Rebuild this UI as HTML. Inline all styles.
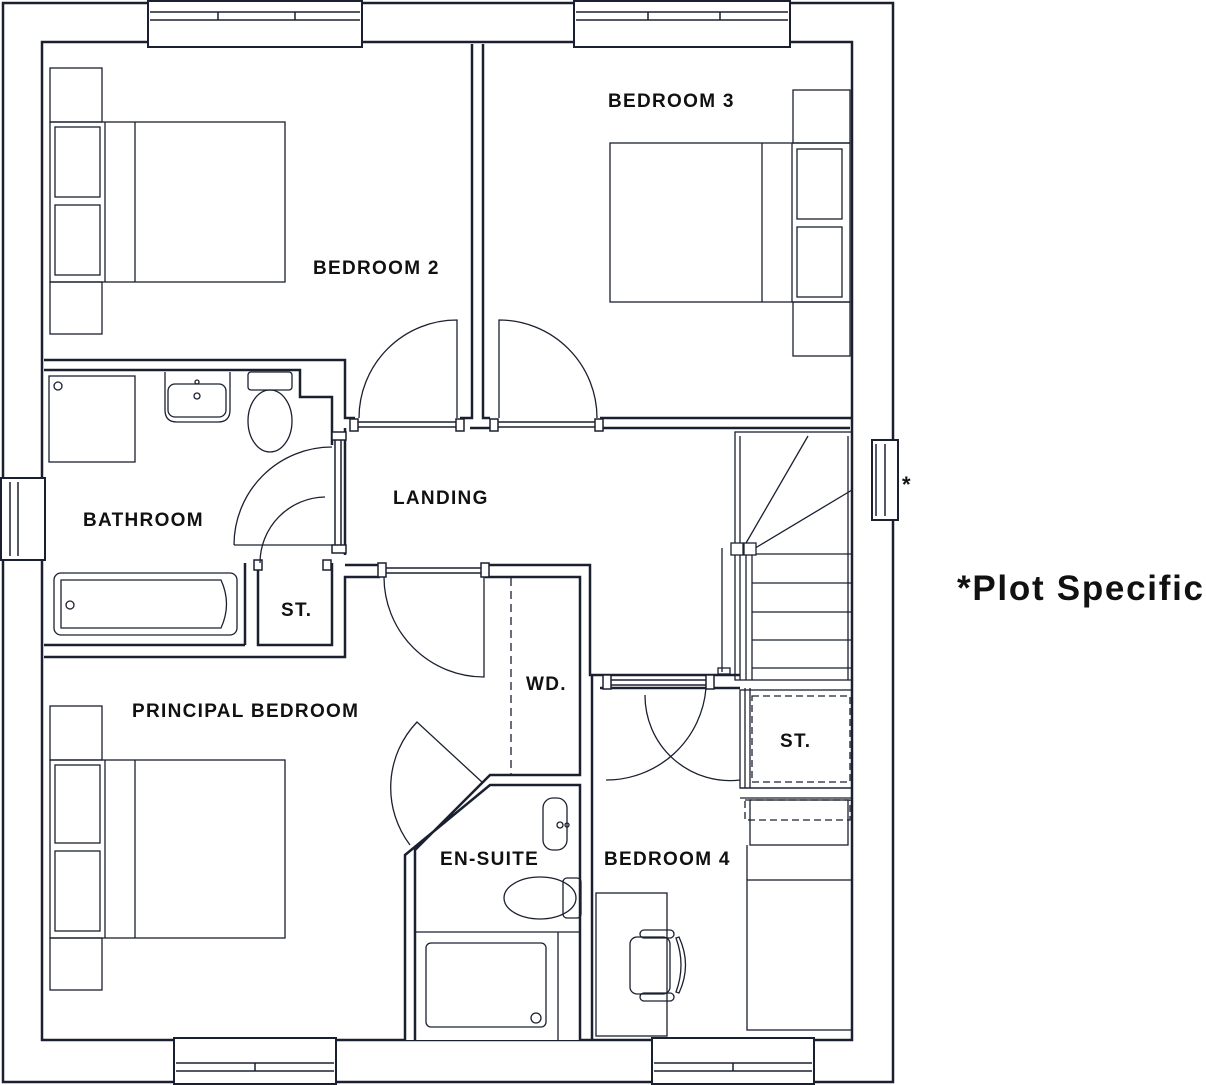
<!DOCTYPE html>
<html><head><meta charset="utf-8"><style>
html,body{margin:0;padding:0;background:#fff}
svg{display:block}
text{font-family:"Liberation Sans",sans-serif;fill:#111;font-weight:bold;letter-spacing:1.3px}
</style></head><body>
<svg width="1206" height="1085" viewBox="0 0 1206 1085" xmlns="http://www.w3.org/2000/svg">
<g fill="none" stroke="#1b2030" stroke-width="2.5">
<path d="M3,3 H893 V1082 H3 Z" fill="#fff"/>
<path d="M42,42 H852 V1040 H42 Z" fill="#fff"/>
</g>
<g fill="#fff" stroke="#1b2030" stroke-width="2">
<rect x="148" y="1" width="214" height="46"/>
<rect x="574" y="1" width="216" height="46"/>
<rect x="174" y="1038" width="162" height="46"/>
<rect x="652" y="1038" width="162" height="46"/>
<rect x="1" y="478" width="44" height="82"/>
<rect x="872" y="440" width="26" height="80"/>
</g>
<g stroke="#1b2030" stroke-width="1.5" fill="none">
<path d="M150,12 H360 M150,20 H360 M218,12 V20 M295,12 V20"/>
<path d="M576,12 H788 M576,20 H788 M648,12 V20 M720,12 V20"/>
<path d="M176,1063 H334 M176,1071 H334 M255,1063 V1071"/>
<path d="M654,1063 H812 M654,1071 H812 M733,1063 V1071"/>
<path d="M10,482 V556 M18,482 V556"/>
<path d="M876,444 V516 M885,444 V516"/>
</g>
<g fill="#fff" stroke="#1b2030" stroke-width="2.5">
<path d="M472,44 V418 H460 M483,44 V418 H490"/>
<path d="M600,418 H852 M600,428 H850"/>
<path d="M470,428 H490"/>
<path d="M44,360 H345 V418 H355 M44,370 H300 V397 H332 V445"/>
<path d="M345,428 V555"/>
<path d="M44,645 H245 M44,657 H345 V577 H380"/>
<path d="M245,563 V645 M258,563 V645 H332 V563"/>
<path d="M485,565 H590 V675 H600 M485,577 H580 V775 H490 L415,850 V1040 M405,1040 V855 L490,785 H580 V1040 M592,675 V1040"/>
<path d="M345,565 H380"/>
<path d="M600,675 H740 M600,688 H740"/>
</g>
<g stroke="#1b2030" stroke-width="1.5" fill="#fff">
<rect x="350" y="419" width="8" height="12"/><rect x="456" y="419" width="8" height="12"/>
<rect x="490" y="419" width="8" height="12"/><rect x="595" y="419" width="8" height="12"/>
<path d="M358,422 H456 M358,427 H456 M498,422 H595 M498,427 H595"/>
<rect x="332" y="432" width="14" height="8"/><rect x="332" y="545" width="14" height="8"/>
<path d="M335,440 V545 M341,440 V545"/>
<rect x="378" y="563" width="8" height="14"/><rect x="481" y="563" width="8" height="14"/>
<path d="M386,568 H481 M386,573 H481"/>
<rect x="603" y="675" width="8" height="14"/><rect x="706" y="675" width="8" height="14"/>
<path d="M611,680 H706 M611,685 H706"/>
<rect x="254" y="560" width="8" height="10"/><rect x="323" y="560" width="8" height="10"/>
</g>
<g stroke="#1b2030" stroke-width="1.3" fill="none">
<path d="M457,418 V320 A98,98 0 0 0 359,418"/>
<path d="M499,418 V320 A98,98 0 0 1 597,418"/>
<path d="M234,545 H332 M332,447 A98,98 0 0 0 234,545"/>
<path d="M325,497 A66,66 0 0 0 260,563"/>
<path d="M384,577 A100,100 0 0 0 484,677 V577"/>
<path d="M606,780 A100,100 0 0 0 706,688 M645,695 A85,85 0 0 0 740,780"/>
<path d="M483,783 L417,722 A95,95 0 0 0 410,845"/>
<path d="M511,578 V775" stroke-dasharray="8,5"/>
</g>
<g stroke="#1b2030" stroke-width="1.3" fill="none">
<rect x="735" y="432" width="117" height="248"/>
<path d="M740,436 V680 M848,436 V680 M746,552 V680 M752,552 V680"/>
<path d="M752,554 H852 M752,583 H852 M752,612 H852 M752,640 H852 M752,668 H852"/>
<path d="M742,550 L808,436 M752,550 L852,490"/>
<rect x="731" y="543" width="12" height="12" fill="#fff"/><rect x="744" y="543" width="12" height="12" fill="#fff"/>
<path d="M722,548 V672"/><rect x="718" y="668" width="12" height="6"/>
<rect x="740" y="690" width="112" height="98"/>
<path d="M745,688 V788 M750,688 V788"/>
<rect x="752" y="696" width="98" height="86" stroke-dasharray="7,4"/>
<path d="M740,788 H852 M740,798 H852"/>
<rect x="745" y="800" width="105" height="20" stroke-dasharray="7,4"/>
<rect x="750" y="800" width="98" height="45"/>
<rect x="747" y="880" width="105" height="150"/>
<path d="M747,845 V880"/>
</g>
<g stroke="#1b2030" stroke-width="1.3" fill="none">
<rect x="50" y="68" width="52" height="54"/><rect x="50" y="282" width="52" height="52"/>
<rect x="50" y="122" width="235" height="160"/><path d="M105,122 V282 M135,122 V282"/>
<rect x="55" y="127" width="45" height="70"/><rect x="55" y="205" width="45" height="70"/>
<rect x="610" y="143" width="240" height="159"/><path d="M762,143 V302 M792,143 V302"/>
<rect x="797" y="149" width="45" height="70"/><rect x="797" y="227" width="45" height="70"/>
<rect x="793" y="90" width="57" height="53"/><rect x="793" y="302" width="57" height="54"/>
<rect x="50" y="706" width="52" height="54"/><rect x="50" y="938" width="52" height="52"/>
<rect x="50" y="760" width="235" height="178"/><path d="M105,760 V938 M135,760 V938"/>
<rect x="55" y="765" width="45" height="78"/><rect x="55" y="851" width="45" height="80"/>
<rect x="49" y="376" width="86" height="86"/><circle cx="58" cy="386" r="4"/>
<path d="M165,372 V410 Q165,422 177,422 H218 Q230,422 230,410 V372"/><rect x="168" y="384" width="58" height="33" rx="7"/>
<circle cx="197" cy="382" r="2"/><circle cx="197" cy="396" r="3"/>
<rect x="248" y="372" width="44" height="18" rx="3"/><ellipse cx="270" cy="421" rx="22" ry="31"/>
<rect x="54" y="573" width="183" height="62" rx="7"/>
<path d="M61,580 H221 Q232,604 221,628 H61 Z"/><circle cx="70" cy="605" r="4"/>
<rect x="543" y="798" width="24" height="52" rx="10"/><circle cx="560" cy="825" r="3"/><circle cx="567" cy="825" r="2"/>
<ellipse cx="540" cy="898" rx="36" ry="21"/><rect x="563" y="878" width="18" height="40" rx="4"/>
<path d="M415,932 H580 M558,932 V1040"/>
<rect x="426" y="943" width="120" height="84" rx="5"/><circle cx="536" cy="1018" r="5"/>
<rect x="596" y="893" width="71" height="143"/>
<rect x="630" y="937" width="40" height="57" rx="7"/>
<rect x="640" y="930" width="34" height="8" rx="4"/><rect x="640" y="993" width="34" height="8" rx="4"/>
<path d="M679,937 Q692,965 679,993 L676,992 Q686,965 676,938 Z"/>
</g>
<text x="313" y="274" font-size="19">BEDROOM 2</text>
<text x="608" y="107" font-size="19">BEDROOM 3</text>
<text x="393" y="504" font-size="19">LANDING</text>
<text x="83" y="526" font-size="19">BATHROOM</text>
<text x="281" y="616" font-size="19">ST.</text>
<text x="132" y="717" font-size="19">PRINCIPAL BEDROOM</text>
<text x="526" y="690" font-size="19">WD.</text>
<text x="780" y="747" font-size="19">ST.</text>
<text x="440" y="865" font-size="19">EN-SUITE</text>
<text x="604" y="865" font-size="19">BEDROOM 4</text>
<text x="902" y="492" font-size="22">*</text>
<text x="957" y="600" font-size="35" textLength="246" lengthAdjust="spacing" style="letter-spacing:0">*Plot Specific</text>
</svg>
</body></html>
